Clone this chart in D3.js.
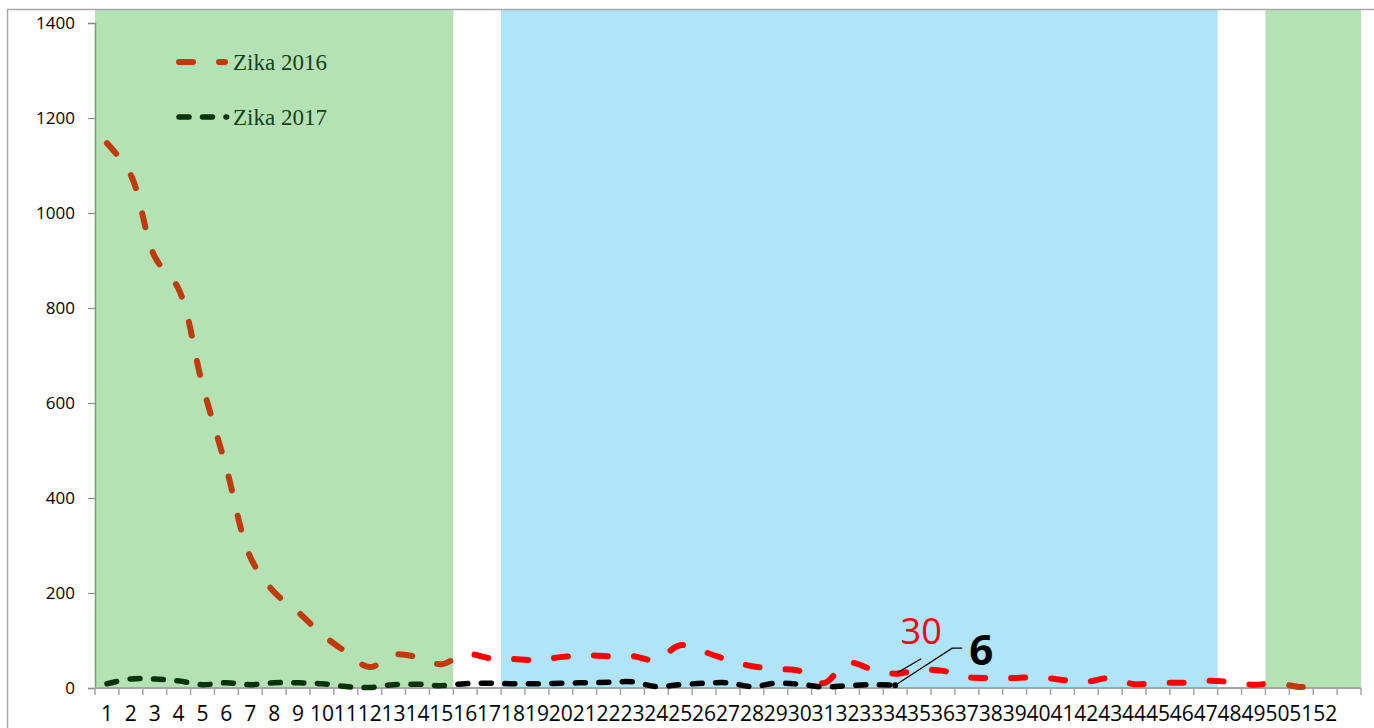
<!DOCTYPE html>
<html>
<head>
<meta charset="utf-8">
<script src="https://cdn.jsdelivr.net/npm/d3@7"></script>
<style>
  body { margin: 0; background: #fff; }
  svg { display: block; }
</style>
</head>
<body>
<div id="chart"></div>
<script>
var width = 1374, height = 728;

// Data
var weeks = d3.range(1, 54);           // 53 slots, last one has no label
var weekLabels = d3.range(1, 53).map(String);
var zika2016 = [1147, 1080, 908, 840, 638, 463, 276, 202, 160, 113, 76, 44, 70, 65, 50,
  72, 63, 61, 59, 65, 69, 67, 67, 59, 90, 76, 59, 46, 40, 36, 10, 53, 40, 30, 38, 36,
  23, 21, 21, 23, 17, 13, 21, 8, 11, 11, 15, 13, 7, 10, 2, 8];
var zika2017 = [9, 19, 19, 15, 7, 11, 7, 11, 11, 9, 3, 1, 7, 8, 5, 9, 10, 9, 9, 10,
  11, 12, 13, 3, 7, 10, 11, 3, 10, 8, 2, 5, 7, 6];
var yTicks = [0, 200, 400, 600, 800, 1000, 1200, 1400];
// season bands (first week, last week)
var greenBands = [[1, 15], [50, 53]];
var blueBands = [[18, 47]];
var seriesNames = ["Zika 2016", "Zika 2017"];
var lastLabels = [30, 6];

var x = d3.scaleBand().domain(weeks).range([95, 1361]);
var y = d3.scaleLinear().domain([0, 1400]).range([688, 23]);
var plotTop = 10;

var svg = d3.select("#chart").append("svg")
    .attr("width", width).attr("height", height);

// bands
function bandRect(sel, bands, color) {
  sel.selectAll(null).data(bands).enter().append("rect")
    .attr("x", function(d) { return x(d[0]); })
    .attr("width", function(d) { return x(d[1]) + x.bandwidth() - x(d[0]); })
    .attr("y", plotTop)
    .attr("height", y(0) - plotTop)
    .attr("fill", color);
}
var gBands = svg.append("g");
bandRect(gBands, greenBands, "#b5e2b4");
bandRect(gBands, blueBands, "#b0e4f8");

// clip regions: inside green bands / outside
var defs = svg.append("defs");
var clipIn = defs.append("clipPath").attr("id", "clipGreen");
greenBands.forEach(function(b) {
  clipIn.append("rect").attr("x", x(b[0])).attr("y", 0)
    .attr("width", x(b[1]) + x.bandwidth() - x(b[0])).attr("height", height);
});
var clipOut = defs.append("clipPath").attr("id", "clipOther");
clipOut.append("rect")
  .attr("x", x(greenBands[0][1]) + x.bandwidth()).attr("y", 0)
  .attr("width", x(greenBands[1][0]) - x(greenBands[0][1]) - x.bandwidth())
  .attr("height", height);

// chart frame
svg.append("path")
  .attr("d", "M7.5," + height + "V9.5H" + width)
  .attr("fill", "none").attr("stroke", "#a9a9a9").attr("stroke-width", 1.5);

// y axis
var yAxis = svg.append("g")
  .attr("transform", "translate(95,0)")
  .call(d3.axisLeft(y).tickValues(yTicks).tickFormat(d3.format("d"))
    .tickSize(7).tickPadding(13));
yAxis.select(".domain").attr("stroke", "#7a9a7a").attr("stroke-width", 1.5);
yAxis.selectAll(".tick line").attr("stroke", "#8c8c8c").attr("stroke-width", 1.2);
yAxis.selectAll("text").attr("font-family", "Open Sans").attr("font-size", 17)
  .attr("fill", "#000");

// x axis
var xAxis = svg.append("g").attr("transform", "translate(0," + y(0) + ")");
xAxis.append("line").attr("x1", x.range()[0]).attr("x2", x.range()[1])
  .attr("stroke", "#a6a6a6").attr("stroke-width", 2);
xAxis.selectAll(".tk").data(weeks.concat([54])).enter().append("line")
  .attr("x1", function(d) { return d <= 53 ? x(d) : x.range()[1]; })
  .attr("x2", function(d) { return d <= 53 ? x(d) : x.range()[1]; })
  .attr("y1", 0).attr("y2", 7)
  .attr("stroke", "#a6a6a6").attr("stroke-width", 1.5);
xAxis.selectAll(".lbl").data(weekLabels).enter().append("text")
  .attr("x", function(d, i) { return x(weeks[i]) + x.bandwidth() / 2; })
  .attr("y", 33)
  .attr("text-anchor", "middle")
  .attr("font-family", "Open Sans").attr("font-size", 21)
  .text(function(d) { return d; });

// lines
var line = d3.line()
  .x(function(d, i) { return x(weeks[i]) + x.bandwidth() / 2; })
  .y(function(d) { return y(d); })
  .curve(d3.curveCatmullRom.alpha(0.5));

function drawSeries(data, colorIn, colorOut, width, dash) {
  [["clipGreen", colorIn], ["clipOther", colorOut]].forEach(function(c) {
    svg.append("path").datum(data)
      .attr("d", line)
      .attr("clip-path", "url(#" + c[0] + ")")
      .attr("fill", "none")
      .attr("stroke", c[1])
      .attr("stroke-width", width)
      .attr("stroke-linecap", "round")
      .attr("stroke-dasharray", dash);
  });
}
drawSeries(zika2016, "#bf3a0c", "#ff0000", 6, "14,26");
drawSeries(zika2017, "#06330a", "#000000", 5.5, "10,13.5");

// end marker of 2017
var xEnd = x(weeks[zika2017.length - 1]) + x.bandwidth() / 2;
svg.append("circle").attr("cx", xEnd).attr("cy", y(zika2017[zika2017.length - 1]))
  .attr("r", 3).attr("fill", "#000");

// annotations
var p16 = [xEnd, y(zika2016[zika2017.length - 1])];
var p17 = [xEnd, y(zika2017[zika2017.length - 1])];
svg.append("line")
  .attr("x1", p16[0] + 2).attr("y1", p16[1] - 1)
  .attr("x2", p16[0] + 26).attr("y2", p16[1] - 15)
  .attr("stroke", "#000").attr("stroke-width", 1.2);
svg.append("text")
  .attr("x", p16[0] + 26).attr("y", p16[1] - 30)
  .attr("text-anchor", "middle")
  .attr("font-family", "Open Sans").attr("font-size", 36)
  .attr("fill", "#ff0000")
  .text(lastLabels[0]);
svg.append("polyline")
  .attr("points", [p17, [p17[0] + 57, p17[1] - 37], [p17[0] + 67, p17[1] - 37]].join(" "))
  .attr("fill", "none").attr("stroke", "#000").attr("stroke-width", 1.2);
svg.append("text")
  .attr("x", p17[0] + 74).attr("y", p17[1] - 20)
  .attr("font-family", "Open Sans").attr("font-weight", "bold").attr("font-size", 42)
  .attr("fill", "#000")
  .text(lastLabels[1]);

// legend
var legend = svg.append("g");
var legendStyle = [
  { color: "#bf3a0c", width: 6, dash: "14,26", x2: 225 },
  { color: "#06330a", width: 5.5, dash: "10,13.5", x2: 226.6 }
];
seriesNames.forEach(function(name, i) {
  var ly = 62 + i * 55;
  legend.append("line")
    .attr("x1", 179).attr("x2", legendStyle[i].x2)
    .attr("y1", ly).attr("y2", ly)
    .attr("stroke", legendStyle[i].color)
    .attr("stroke-width", legendStyle[i].width)
    .attr("stroke-linecap", "round")
    .attr("stroke-dasharray", legendStyle[i].dash);
  legend.append("text")
    .attr("x", 233).attr("y", ly + 8)
    .attr("font-family", "Liberation Serif").attr("font-size", 23)
    .attr("fill", "#163f16")
    .text(name);
});
</script>
</body>
</html>
